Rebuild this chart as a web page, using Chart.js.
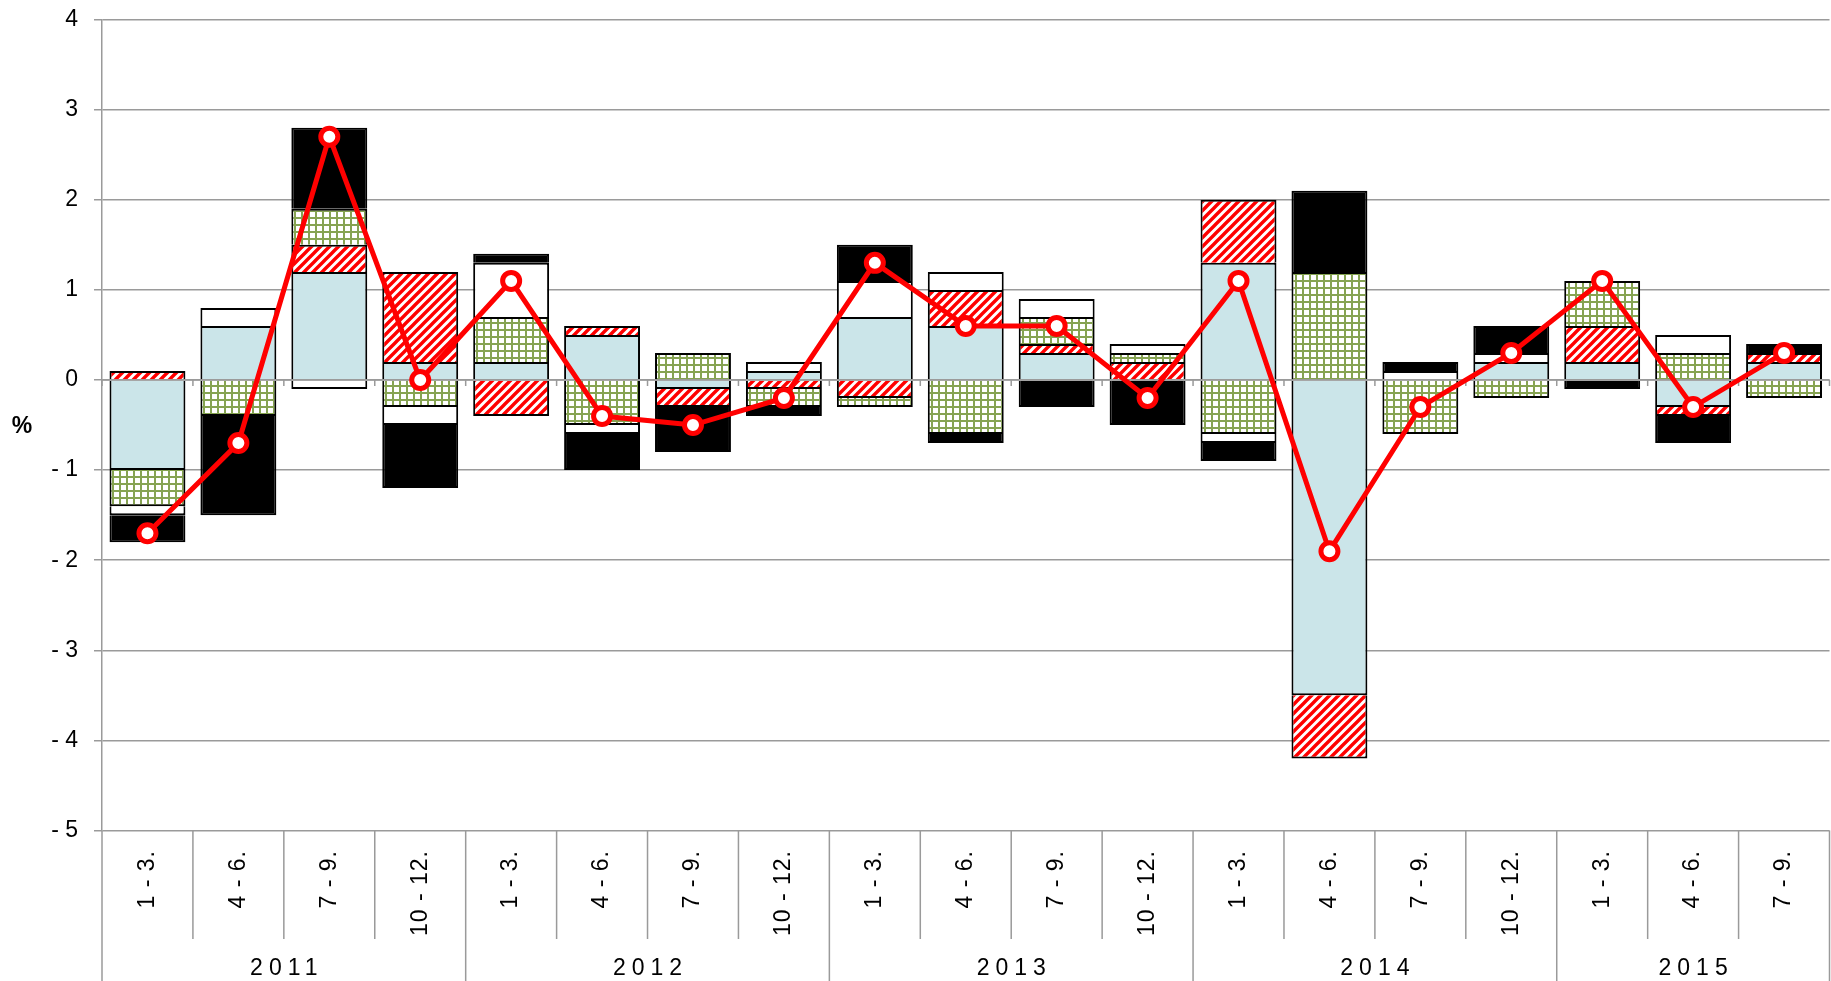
<!DOCTYPE html>
<html>
<head>
<meta charset="utf-8">
<script src="https://cdn.jsdelivr.net/npm/chart.js@4.4.1/dist/chart.umd.min.js"></script>
<style>
html, body { margin: 0; padding: 0; overflow: hidden; background: #fff; }
#clip { position: relative; width: 1831px; height: 981px; overflow: hidden; }
#chart { position: absolute; left: 0; top: 0; display: block; }
</style>
</head>
<body>
<div id="clip"><canvas id="chart" width="1843" height="981"></canvas></div>
<script>
// Categories (quarters) and the year each one belongs to
const quarters = [
  '1 - 3.', '4 - 6.', '7 - 9.', '10 - 12.',
  '1 - 3.', '4 - 6.', '7 - 9.', '10 - 12.',
  '1 - 3.', '4 - 6.', '7 - 9.', '10 - 12.',
  '1 - 3.', '4 - 6.', '7 - 9.', '10 - 12.',
  '1 - 3.', '4 - 6.', '7 - 9.'
];
const quarterYears = [
  '2011', '2011', '2011', '2011',
  '2012', '2012', '2012', '2012',
  '2013', '2013', '2013', '2013',
  '2014', '2014', '2014', '2014',
  '2015', '2015', '2015'
];

// Stacked contributions, in stacking order (percentage points)
const seriesBlue  = [-1.0, 0.6, 1.2, 0.2, 0.2, 0.5, -0.1, 0.1, 0.7, 0.6, 0.3, 0.0, 1.3, -3.5, 0.0, 0.2, 0.2, -0.3, 0.2];
const seriesRed   = [0.1, 0.0, 0.3, 1.0, -0.4, 0.1, -0.2, -0.1, -0.2, 0.4, 0.1, 0.2, 0.7, -0.7, 0.0, 0.0, 0.4, -0.1, 0.1];
const seriesGreen = [-0.4, -0.4, 0.4, -0.3, 0.5, -0.5, 0.3, -0.2, -0.1, -0.6, 0.3, 0.1, -0.6, 1.2, -0.6, -0.2, 0.5, 0.3, -0.2];
const seriesWhite = [-0.1, 0.2, -0.1, -0.2, 0.6, -0.1, 0.0, 0.1, 0.4, 0.2, 0.2, 0.1, -0.1, 0.0, 0.1, 0.1, 0.0, 0.2, 0.0];
const seriesBlack = [-0.3, -1.1, 0.9, -0.7, 0.1, -0.4, -0.5, -0.1, 0.4, -0.1, -0.3, -0.5, -0.2, 0.9, 0.1, 0.3, -0.1, -0.3, 0.1];

// Total change (red line)
const lineTotal = [-1.7, -0.7, 2.7, 0.0, 1.1, -0.4, -0.5, -0.2, 1.3, 0.6, 0.6, -0.2, 1.1, -1.9, -0.3, 0.3, 1.1, -0.3, 0.3];

const gridGray = '#9a9a9a';
const FONT = "'Liberation Sans', Arial, sans-serif";

Chart.defaults.font.family = FONT;
Chart.defaults.color = '#000';

// Red diagonal hatch
function makeHatch() {
  const s = 9;
  const c = document.createElement('canvas');
  c.width = s; c.height = s;
  const g = c.getContext('2d');
  g.fillStyle = '#fff';
  g.fillRect(0, 0, s, s);
  g.strokeStyle = '#ff0000';
  g.lineWidth = 3.4;
  g.beginPath();
  g.moveTo(0, s); g.lineTo(s, 0);
  g.moveTo(-3, 3); g.lineTo(3, -3);
  g.moveTo(s - 3, s + 3); g.lineTo(s + 3, s - 3);
  g.stroke();
  return g.createPattern(c, 'repeat');
}

// Olive cross-hatch grid
function makeGrid() {
  const s = 7;
  const c = document.createElement('canvas');
  c.width = s; c.height = s;
  const g = c.getContext('2d');
  g.fillStyle = '#86a352';
  g.fillRect(0, 0, s, s);
  g.fillStyle = '#fff';
  g.fillRect(2, 2, 5, 5);
  return g.createPattern(c, 'repeat');
}

// Zero axis drawn over the bars (under the line), plus the category axis below the plot
const axisPlugin = {
  id: 'axisPlugin',
  beforeDatasetDraw(chart, args) {
    if (args.meta.type !== 'line') return;
    const { ctx, chartArea } = chart;
    const xs = chart.scales.x;
    const y0 = chart.scales.y.getPixelForValue(0);
    const step = xs.getPixelForValue(1) - xs.getPixelForValue(0);
    ctx.save();
    ctx.strokeStyle = gridGray;
    ctx.lineWidth = 1.5;
    ctx.beginPath();
    ctx.moveTo(chartArea.left, y0);
    ctx.lineTo(chartArea.right, y0);
    for (let i = 0; i <= quarters.length; i++) {
      const bx = xs.getPixelForValue(0) - step / 2 + i * step;
      ctx.moveTo(bx, y0);
      ctx.lineTo(bx, y0 + 6);
    }
    ctx.stroke();
    ctx.restore();
  },
  afterDraw(chart) {
    const { ctx, chartArea } = chart;
    const xs = chart.scales.x;
    const step = xs.getPixelForValue(1) - xs.getPixelForValue(0);
    const bottom = chartArea.bottom;
    const full = chart.height;

    ctx.save();
    ctx.strokeStyle = gridGray;
    ctx.lineWidth = 1.5;
    ctx.beginPath();
    ctx.moveTo(chartArea.left, bottom);
    ctx.lineTo(chartArea.left, full);
    for (let i = 0; i < quarters.length; i++) {
      const bx = xs.getPixelForValue(i) + step / 2;
      const yearEnd = i === quarters.length - 1 || quarterYears[i + 1] !== quarterYears[i];
      ctx.moveTo(bx, bottom);
      ctx.lineTo(bx, yearEnd ? full : bottom + 108.5);
    }
    ctx.stroke();

    // quarter labels, rotated
    ctx.fillStyle = '#000';
    ctx.font = '23px ' + FONT;
    ctx.letterSpacing = '1px';
    ctx.textAlign = 'right';
    ctx.textBaseline = 'middle';
    quarters.forEach((q, i) => {
      ctx.save();
      ctx.translate(xs.getPixelForValue(i), bottom + 19.5);
      ctx.rotate(-Math.PI / 2);
      ctx.fillText(q, 0, 0);
      ctx.restore();
    });

    // year labels
    ctx.letterSpacing = '6px';
    ctx.textAlign = 'center';
    let start = 0;
    for (let i = 0; i < quarters.length; i++) {
      if (i === quarters.length - 1 || quarterYears[i + 1] !== quarterYears[i]) {
        const cx = (xs.getPixelForValue(start) + xs.getPixelForValue(i)) / 2;
        ctx.fillText(quarterYears[i], cx + 3, bottom + 138.5);
        start = i + 1;
      }
    }

    // unit label
    ctx.letterSpacing = '0px';
    ctx.font = 'bold 23px ' + FONT;
    ctx.fillText('%', 22, (chartArea.top + chartArea.bottom) / 2 + 2);
    ctx.restore();
  }
};

const barBase = {
  type: 'bar',
  borderColor: '#000',
  borderWidth: 2,
  borderSkipped: 'start',
  barPercentage: 0.835,
  categoryPercentage: 1
};

new Chart(document.getElementById('chart'), {
  data: {
    labels: quarters,
    datasets: [
      Object.assign({ label: 'blue', data: seriesBlue, backgroundColor: '#cbe5e9' }, barBase),
      Object.assign({ label: 'red', data: seriesRed, backgroundColor: makeHatch() }, barBase),
      Object.assign({ label: 'green', data: seriesGreen, backgroundColor: makeGrid() }, barBase),
      Object.assign({ label: 'white', data: seriesWhite, backgroundColor: '#fff' }, barBase),
      Object.assign({ label: 'black', data: seriesBlack, backgroundColor: '#000' }, barBase),
      {
        type: 'line',
        label: 'total',
        data: lineTotal,
        order: -1,
        borderColor: '#ff0000',
        borderWidth: 5,
        tension: 0,
        pointRadius: 8.5,
        pointBackgroundColor: '#fff',
        pointBorderColor: '#ff0000',
        pointBorderWidth: 5
      }
    ]
  },
  options: {
    responsive: false,
    animation: false,
    layout: { padding: { top: 19.6, left: 0, right: 0, bottom: 0 } },
    plugins: { legend: { display: false }, tooltip: { enabled: false } },
    scales: {
      x: {
        stacked: true,
        grid: { display: false },
        border: { display: false },
        ticks: { display: false },
        afterFit(s) { s.height = 150.5; s.paddingLeft = 0; s.paddingRight = 0; }
      },
      y: {
        stacked: true,
        min: -5,
        max: 4,
        ticks: {
          stepSize: 1,
          padding: 16,
          color: '#000',
          font: { size: 23 },
          callback: v => v < 0 ? '- ' + (-v) : String(v)
        },
        grid: { color: gridGray, lineWidth: 1.5, tickLength: 8 },
        border: { color: gridGray, width: 1.5 },
        afterFit(s) { s.width = 102; s.paddingTop = 0; s.paddingBottom = 0; }
      }
    }
  },
  plugins: [axisPlugin]
});
</script>
</body>
</html>
